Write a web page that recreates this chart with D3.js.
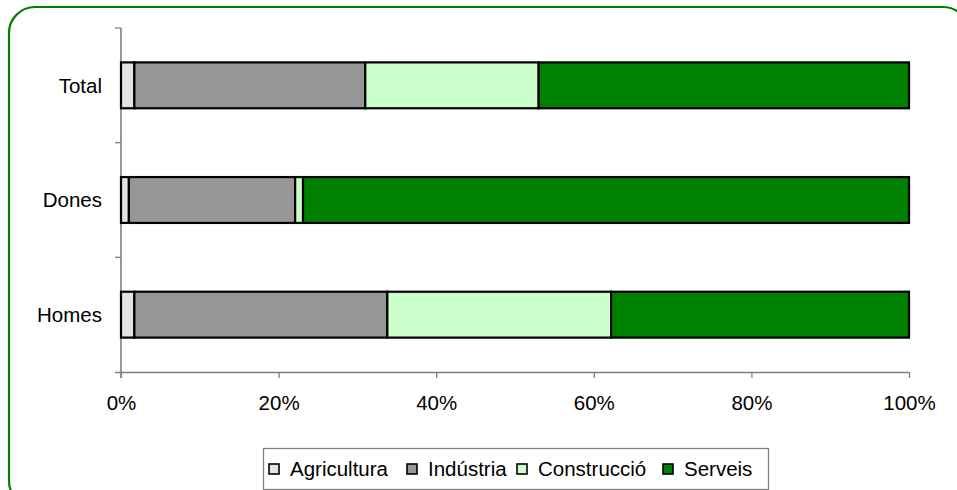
<!DOCTYPE html>
<html>
<head>
<meta charset="utf-8">
<script src="https://cdn.jsdelivr.net/npm/d3@7"></script>
<style>
  body { margin: 0; background: #fff; }
  text { font-family: "Liberation Sans", Arial, sans-serif; }
</style>
</head>
<body>
<div id="chart"></div>
<script>
// data (percent of each group)
const categories = ["Total", "Dones", "Homes"];
const sectors = ["Agricultura", "Indústria", "Construcció", "Serveis"];
const agricultura = [1.7, 1.0, 1.7];
const industria = [29.3, 21.1, 32.1];
const construccio = [22.0, 1.0, 28.4];
const serveis = [47.0, 76.9, 37.8];
const xTicks = [0, 20, 40, 60, 80, 100];

const colors = ["#e3e3e3", "#969696", "#ccffcc", "#008000"];
const fontSize = 20.5;

const width = 957, height = 490;
const margin = { top: 28, right: 48, bottom: 118, left: 121 };

const svg = d3.select("#chart").append("svg")
  .attr("width", width)
  .attr("height", height);

// rounded green frame
svg.append("rect")
  .attr("x", 9).attr("y", 7)
  .attr("width", 960).attr("height", 500)
  .attr("rx", 26).attr("ry", 26)
  .attr("fill", "none")
  .attr("stroke", "#008000")
  .attr("stroke-width", 2.2);

const rows = categories.map((c, i) => ({
  cat: c,
  Agricultura: agricultura[i],
  "Indústria": industria[i],
  "Construcció": construccio[i],
  Serveis: serveis[i]
}));

const stack = d3.stack().keys(sectors)(rows);

const x = d3.scaleLinear().domain([0, 100]).range([margin.left, width - margin.right]);
const y = d3.scaleBand().domain(categories)
  .range([margin.top, height - margin.bottom])
  .paddingInner(0.6).paddingOuter(0.3);

// axes first so bars sit on top
const yTop = margin.top, yBot = height - margin.bottom;
const step = y.step();

const xAxis = svg.append("g")
  .attr("transform", `translate(0,${yBot})`)
  .call(d3.axisBottom(x).tickValues(xTicks).tickFormat(d => d + "%").tickSizeInner(6).tickSizeOuter(0).tickPadding(17));
xAxis.select(".domain").attr("stroke", "#808080").attr("stroke-width", 1.6)
  .attr("d", `M${x(0) - 6},0.5H${x(100)}`);
xAxis.selectAll(".tick line").attr("stroke", "#808080").attr("stroke-width", 1.3);
xAxis.selectAll("text").attr("font-size", fontSize).attr("fill", "#000")
  .style("font-family", "'Liberation Sans', Arial, sans-serif");

const yg = svg.append("g");
yg.append("line")
  .attr("x1", x(0)).attr("x2", x(0))
  .attr("y1", yTop).attr("y2", yBot + 6)
  .attr("stroke", "#808080").attr("stroke-width", 1.6);
yg.selectAll("line.tk")
  .data(d3.range(categories.length))
  .join("line")
  .attr("class", "tk")
  .attr("x1", x(0) - 6).attr("x2", x(0))
  .attr("y1", i => y(categories[0]) - step * y.paddingInner() / 2 + i * step)
  .attr("y2", i => y(categories[0]) - step * y.paddingInner() / 2 + i * step)
  .attr("stroke", "#808080").attr("stroke-width", 1.3);
yg.selectAll("text")
  .data(categories)
  .join("text")
  .attr("x", x(0) - 19)
  .attr("y", d => y(d) + y.bandwidth() / 2)
  .attr("dy", "0.35em")
  .attr("text-anchor", "end")
  .attr("font-size", fontSize)
  .text(d => d);

// bars
svg.append("g").selectAll("g")
  .data(stack)
  .join("g")
  .attr("fill", (d, i) => colors[i])
  .selectAll("rect")
  .data(d => d)
  .join("rect")
  .attr("x", d => x(d[0]))
  .attr("y", d => y(d.data.cat))
  .attr("width", d => x(d[1]) - x(d[0]))
  .attr("height", y.bandwidth())
  .attr("stroke", "#000")
  .attr("stroke-width", 2.2);

// legend
const lg = svg.append("g");
lg.append("rect")
  .attr("x", 263.5).attr("y", 448.5)
  .attr("width", 505).attr("height", 41)
  .attr("fill", "#fff")
  .attr("stroke", "#808080").attr("stroke-width", 1.3);
const legX = [269, 407, 517, 663];
sectors.forEach((s, i) => {
  lg.append("rect")
    .attr("x", legX[i]).attr("y", 464)
    .attr("width", 10).attr("height", 10)
    .attr("fill", colors[i])
    .attr("stroke", "#000").attr("stroke-width", 1.6);
  lg.append("text")
    .attr("x", legX[i] + 21).attr("y", 476)
    .attr("font-size", fontSize)
    .text(s);
});
</script>
</body>
</html>
